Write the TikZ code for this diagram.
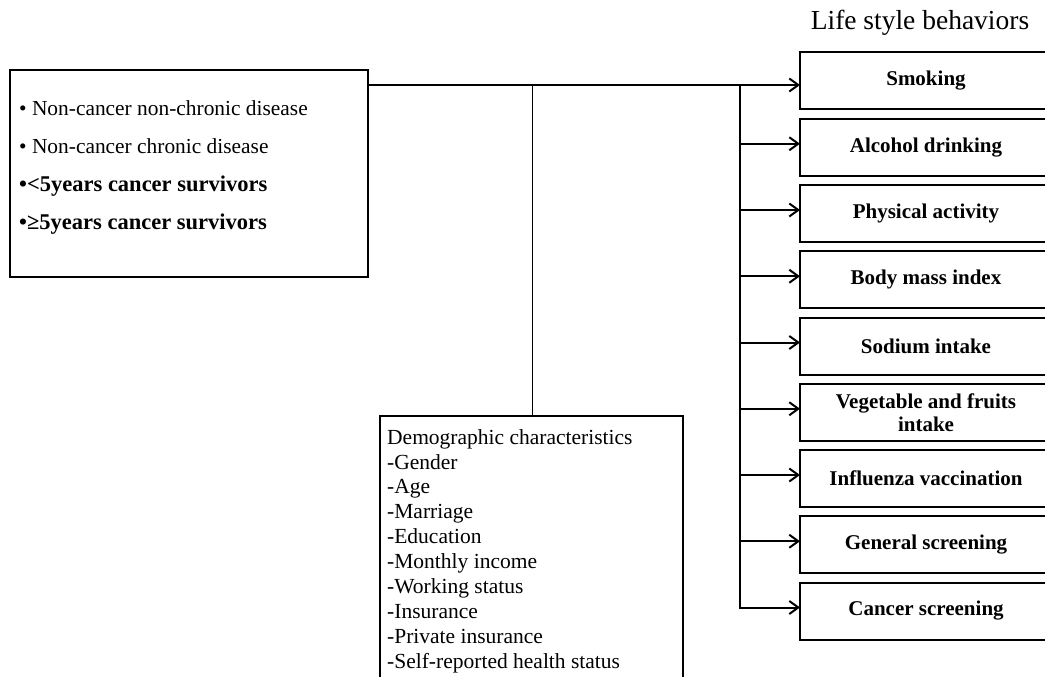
\documentclass[tikz,border=0pt]{standalone}
\usepackage{fontspec}
\setmainfont{Liberation Serif}
\usetikzlibrary{positioning,arrows.meta}

\tikzset{
  behavior/.style={draw, line width=2pt, minimum width=252pt, minimum height=57pt,
    inner sep=0pt, outer sep=0pt, align=center, font=\fontsize{21}{23}\selectfont\bfseries},
  frame/.style={draw, line width=2pt, inner sep=0pt, outer sep=0pt},
  listline/.style={anchor=base west, inner sep=0pt, font=\fontsize{21.4}{24}\selectfont},
  boldline/.style={listline, font=\fontsize{22.5}{24}\selectfont\bfseries},
  conn/.style={line width=1.5pt},
  thinconn/.style={line width=1pt},
  arrow/.style={line width=2pt, -{Straight Barb[length=9pt,width=13pt]}},
}

\begin{document}
\begin{tikzpicture}[x=1pt,y=-1pt,node distance=9.25pt]
        \clip (0,0) rectangle (1045,677);

        % title
        \node[anchor=base, font=\fontsize{27.5}{30}\selectfont] (title) at (920,30) {Life style behaviors};

        % life style boxes
        \node[behavior] (smoking) at (926,81) {Smoking};
        \node[behavior, below=of smoking] (alcohol) {Alcohol drinking};
        \node[behavior, below=of alcohol] (physical) {Physical activity};
        \node[behavior, below=of physical] (bmi) {Body mass index};
        \node[behavior, below=of bmi] (sodium) {Sodium intake};
        \node[behavior, below=of sodium] (vegetable) {Vegetable and fruits\\intake};
        \node[behavior, below=of vegetable] (influenza) {Influenza vaccination};
        \node[behavior, below=of influenza] (general) {General screening};
        \node[behavior, below=of general] (cancer) {Cancer screening};

        % health status groups
        \node[frame, minimum width=358pt, minimum height=207pt] (status) at (189,173.5) {};
        \node[listline] (nonchronic) at (19,115) {• Non-cancer non-chronic disease};
        \node[listline] (chronic) at (19,153) {• Non-cancer chronic disease};
        \node[boldline] (under5) at (19,191) {•<5years cancer survivors};
        \node[boldline] (over5) at (19,229) {•≥5years cancer survivors};

        % demographics
        \node[frame, anchor=north west, minimum width=303pt, minimum height=300pt] (demo) at (380,416) {};
        \node[anchor=north west, align=left, inner sep=0pt, font=\fontsize{21.5}{24.9}\selectfont] (demotext) at (387,429)
          {Demographic characteristics\\-Gender\\-Age\\-Marriage\\-Education\\-Monthly income\\-Working status\\-Insurance\\-Private insurance\\-Self-reported health status};

        %% connectors
        \coordinate (hub) at (532,85);
        \coordinate (split) at (740,85);
        \draw[conn] (status.east |- split) -- (split);
        \draw[thinconn] (hub) -- (hub |- demo.north);
        \draw[arrow] (split) -- (smoking.west |- split);
        \draw[arrow] (split |- alcohol.west) ++(0,-3.5) -- ([yshift=3.5pt]alcohol.west);
        \draw[arrow] (split |- physical.west) ++(0,-3.5) -- ([yshift=3.5pt]physical.west);
        \draw[arrow] (split |- bmi.west) ++(0,-3.5) -- ([yshift=3.5pt]bmi.west);
        \draw[arrow] (split |- sodium.west) ++(0,-3.5) -- ([yshift=3.5pt]sodium.west);
        \draw[arrow] (split |- vegetable.west) ++(0,-3.5) -- ([yshift=3.5pt]vegetable.west);
        \draw[arrow] (split |- influenza.west) ++(0,-3.5) -- ([yshift=3.5pt]influenza.west);
        \draw[arrow] (split |- general.west) ++(0,-3.5) -- ([yshift=3.5pt]general.west);
        \draw[arrow] (split) |- ([yshift=3.5pt]cancer.west);
\end{tikzpicture}
\end{document}
